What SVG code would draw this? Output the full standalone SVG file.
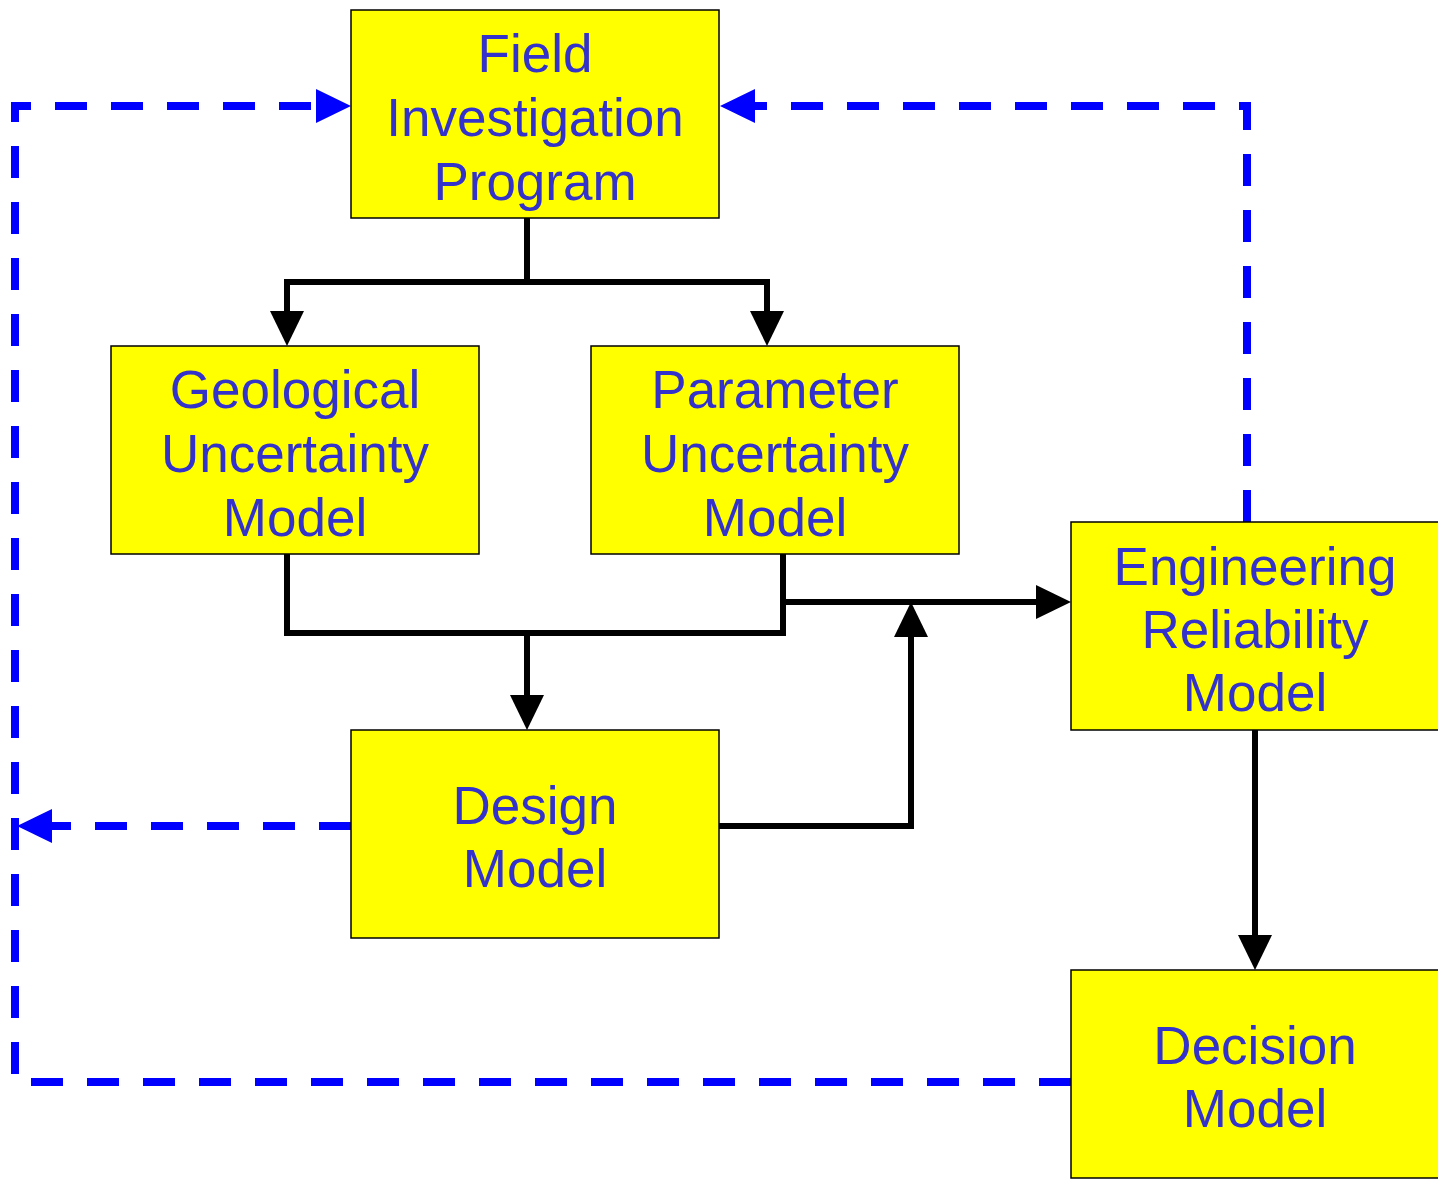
<svg xmlns="http://www.w3.org/2000/svg" width="1438" height="1186" viewBox="0 0 1438 1186">
<style>
.box{fill:#FFFF00;stroke:#000;stroke-width:1.5}
.lbl{font-family:"Liberation Sans",Arial,sans-serif;font-size:53px;fill:#3333CC;text-anchor:middle}
.blk{fill:none;stroke:#000;stroke-width:6;stroke-linejoin:miter}
.blu{fill:none;stroke:#0000FF;stroke-width:8;stroke-dasharray:32 24}
</style>
<defs>
<marker id="ab" markerUnits="userSpaceOnUse" viewBox="0 0 35 34" refX="0" refY="17" markerWidth="35" markerHeight="34" orient="auto"><path d="M0,0 L35,17 L0,34 Z" fill="#000"/></marker>
<marker id="au" markerUnits="userSpaceOnUse" viewBox="0 0 35 34" refX="0" refY="17" markerWidth="35" markerHeight="34" orient="auto"><path d="M0,0 L35,17 L0,34 Z" fill="#0000FF"/></marker>
</defs>
<rect width="1438" height="1186" fill="#fff"/>
<g id="connectors">
<path class="blk" d="M527,218 V282"/>
<path class="blk" d="M527,282 H287 V311" marker-end="url(#ab)"/>
<path class="blk" d="M527,282 H767 V311" marker-end="url(#ab)"/>
<path class="blk" d="M287,554 V633 H783 V554"/>
<path class="blk" d="M527,633 V695" marker-end="url(#ab)"/>
<path class="blk" d="M783,602 H1036" marker-end="url(#ab)"/>
<path class="blk" d="M719,826 H911 V637" marker-end="url(#ab)"/>
<path class="blk" d="M1255,730 V935" marker-end="url(#ab)"/>
<path class="blu" d="M1071,1082 H15 V106 H316" marker-end="url(#au)"/>
<path class="blu" d="M1247,522 V106 H755" marker-end="url(#au)"/>
<path class="blu" d="M351,826 H52" marker-end="url(#au)"/>
</g>
<g id="field">
<rect class="box" x="351" y="10" width="368" height="208"/>
<text class="lbl" x="535" y="72">Field</text>
<text class="lbl" x="535" y="136">Investigation</text>
<text class="lbl" x="535" y="200">Program</text>
</g>
<g id="geological">
<rect class="box" x="111" y="346" width="368" height="208"/>
<text class="lbl" x="295" y="408">Geological</text>
<text class="lbl" x="295" y="472">Uncertainty</text>
<text class="lbl" x="295" y="536">Model</text>
</g>
<g id="parameter">
<rect class="box" x="591" y="346" width="368" height="208"/>
<text class="lbl" x="775" y="408">Parameter</text>
<text class="lbl" x="775" y="472">Uncertainty</text>
<text class="lbl" x="775" y="536">Model</text>
</g>
<g id="engineering">
<rect class="box" x="1071" y="522" width="368" height="208"/>
<text class="lbl" x="1255" y="585">Engineering</text>
<text class="lbl" x="1255" y="648">Reliability</text>
<text class="lbl" x="1255" y="711">Model</text>
</g>
<g id="design">
<rect class="box" x="351" y="730" width="368" height="208"/>
<text class="lbl" x="535" y="824">Design</text>
<text class="lbl" x="535" y="887">Model</text>
</g>
<g id="decision">
<rect class="box" x="1071" y="970" width="368" height="208"/>
<text class="lbl" x="1255" y="1064">Decision</text>
<text class="lbl" x="1255" y="1127">Model</text>
</g>
</svg>
